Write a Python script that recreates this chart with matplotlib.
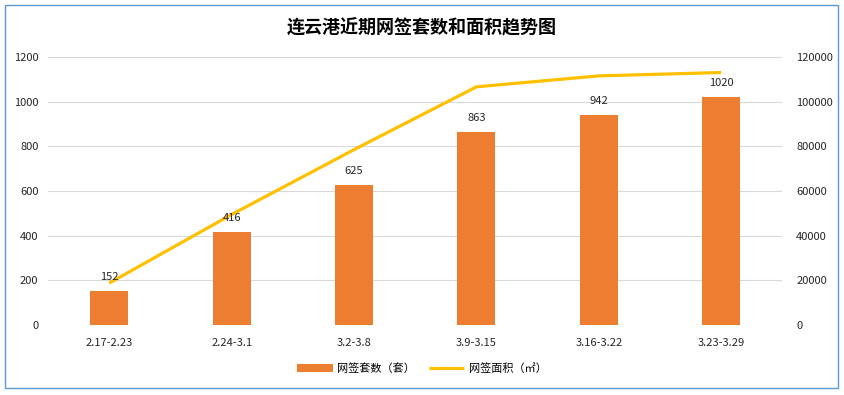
import matplotlib.pyplot as plt
from matplotlib.patches import Rectangle

plt.rcParams['font.family'] = ['Noto Sans CJK SC', 'DejaVu Sans']

# data
weeks = ['2.17-2.23', '2.24-3.1', '3.2-3.8', '3.9-3.15', '3.16-3.22', '3.23-3.29']
units = [152, 416, 625, 863, 942, 1020]
area = [18800, 49500, 78500, 106600, 111500, 113000]

fig = plt.figure(figsize=(8.44, 3.95), dpi=100)
ax = fig.add_axes([0.057, 0.177, 0.870, 0.679])
ax2 = ax.twinx()

x = range(len(weeks))
bars = ax.bar(x, units, width=0.31, color='#ED7D31', label='网签套数（套）', zorder=2)
line, = ax2.plot(x, area, color='#FFC000', linewidth=2.3, label='网签面积（㎡）',
                 solid_capstyle='butt', zorder=3)

# value labels above bars (on ax2 so they sit over the line, but in ax units)
for i, v in enumerate(units):
    ax2.text(i, v + 40, str(v), ha='center', va='bottom', fontsize=8, color='#262626',
             transform=ax.transData, zorder=5)

ax.set_xlim(-0.5, len(weeks) - 0.5)
ax.set_ylim(0, 1200)
ax.set_yticks(range(0, 1201, 200))
ax2.set_ylim(0, 120000)
ax2.set_yticks(range(0, 120001, 20000))
ax.set_xticks(list(x))
ax.set_xticklabels(weeks)

ax.grid(axis='y', color='#D9D9D9', linewidth=0.8, zorder=0)
ax.set_axisbelow(True)
for a in (ax, ax2):
    for s in a.spines.values():
        s.set_visible(False)
    a.tick_params(length=0, labelsize=8, colors='#262626')
ax.tick_params(axis='y', pad=7)
ax.tick_params(axis='x', pad=9)
ax2.tick_params(axis='y', pad=10)

fig.text(0.5, 0.93, '连云港近期网签套数和面积趋势图', ha='center', va='center',
         fontsize=13, fontweight='bold', color='#000000')

fig.legend(handles=[bars, line], loc='center', bbox_to_anchor=(0.5, 0.068), ncol=2,
           frameon=False, fontsize=8, handlelength=3.2, columnspacing=1.2,
           handletextpad=0.4)

# outer border
fig.patches.append(Rectangle((0.006, 0.017), 0.987, 0.97, transform=fig.transFigure,
                             fill=False, edgecolor='#5B9BD5', linewidth=1.0))

fig.savefig('out.png', dpi=100)
